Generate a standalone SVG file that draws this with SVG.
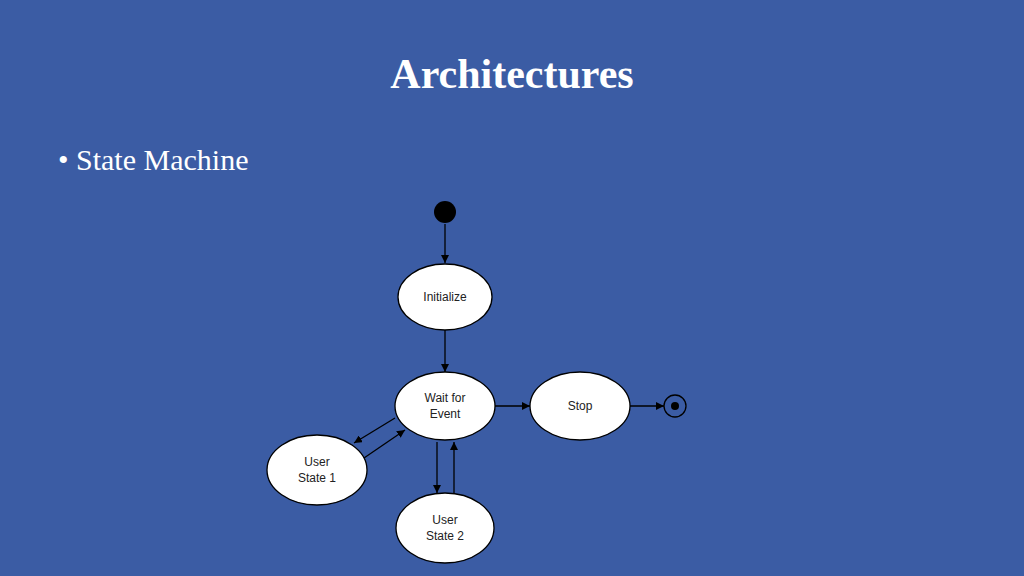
<svg xmlns="http://www.w3.org/2000/svg" width="1024" height="576" viewBox="0 0 1024 576">
<defs>
<style>
.n{fill:#fff;stroke:#000;stroke-width:1.3}
.t{font-family:"Liberation Sans",Arial,sans-serif;font-size:12px;fill:#222;text-anchor:middle}
.c line{stroke:#000;stroke-width:1.3;marker-end:url(#a)}
</style>
<marker id="a" viewBox="0 0 10 10" refX="10" refY="5" markerWidth="8" markerHeight="8" markerUnits="userSpaceOnUse" orient="auto"><path d="M0,0L10,5L0,10z" fill="#000"/></marker>
</defs>
<rect width="1024" height="576" fill="#3B5CA4"/>
<text x="512" y="88" font-family="Liberation Serif,serif" font-size="42" font-weight="bold" fill="#fff" text-anchor="middle">Architectures</text>
<text x="58" y="170" font-family="Liberation Serif,serif" font-size="30" fill="#fff">• State Machine</text>
<g class="c">
<line x1="445" y1="224" x2="445" y2="263"/>
<line x1="445" y1="330" x2="445" y2="372"/>
<line x1="495" y1="406" x2="530" y2="406"/>
<line x1="630" y1="406" x2="664" y2="406"/>
<line x1="395" y1="418" x2="354" y2="443"/>
<line x1="364" y1="458" x2="405" y2="430"/>
<line x1="437" y1="442" x2="437" y2="493"/>
<line x1="454" y1="493" x2="454" y2="442"/>
</g>
<g id="start"><circle cx="445" cy="212" r="11" fill="#000"/></g>
<g id="init"><ellipse class="n" cx="445" cy="297" rx="47" ry="33"/><text class="t" x="445" y="301">Initialize</text></g>
<g id="wait"><ellipse class="n" cx="445" cy="406" rx="50" ry="34"/><text class="t" x="445" y="402">Wait for</text><text class="t" x="445" y="418">Event</text></g>
<g id="stop"><ellipse class="n" cx="580" cy="406" rx="50" ry="34"/><text class="t" x="580" y="410">Stop</text></g>
<g id="end"><circle cx="675" cy="406" r="11" fill="none" stroke="#000" stroke-width="1.3"/><circle cx="675" cy="406" r="4" fill="#000"/></g>
<g id="user1"><ellipse class="n" cx="317" cy="470" rx="50" ry="35"/><text class="t" x="317" y="466">User</text><text class="t" x="317" y="482">State 1</text></g>
<g id="user2"><ellipse class="n" cx="445" cy="528" rx="49" ry="35"/><text class="t" x="445" y="524">User</text><text class="t" x="445" y="540">State 2</text></g>
</svg>
